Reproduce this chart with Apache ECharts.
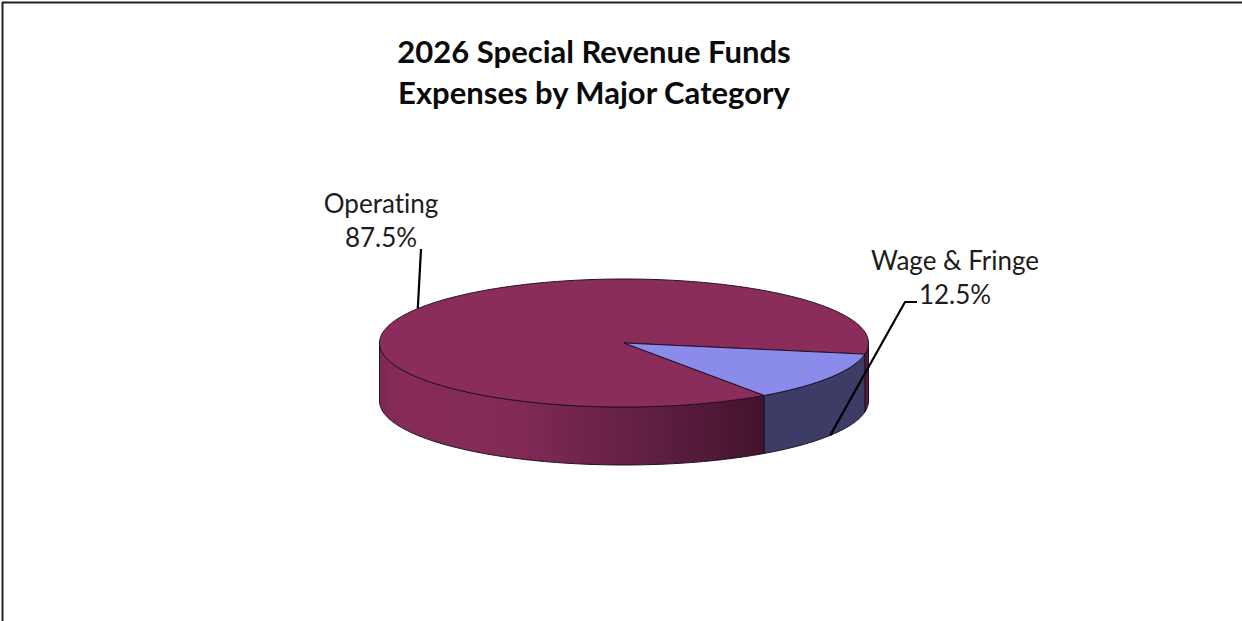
<!DOCTYPE html>
<html>
<head>
<meta charset="utf-8">
<style>
html,body{margin:0;padding:0;background:#fff}
#chart{width:1242px;height:621px}
#chart text{font-variant-ligatures:none !important}
</style>
<script src="https://cdn.jsdelivr.net/npm/echarts@6/dist/echarts.min.js"></script>
</head>
<body>
<div id="chart"></div>
<script>
// Share of special revenue fund expenses, percent
const categories = ['Operating', 'Wage & Fringe'];
const shares = [87.5, 12.5];

// Colours per slice: top face, front wall, and wall past the 3 o'clock seam
const topColors = ['#8A2D5B', '#8B8BEC'];
const sideColors = [
  {
    type: 'linear', x: 379, y: 0, x2: 763, y2: 0, global: true,
    colorStops: [
      { offset: 0, color: '#7E2852' }, { offset: 0.06, color: '#872B58' },
      { offset: 0.35, color: '#822A56' }, { offset: 0.6, color: '#6A2248' },
      { offset: 0.85, color: '#521A38' }, { offset: 1, color: '#43122C' }
    ]
  },
  '#3C3C66'
];
const wrapColors = ['#5A1A3A', '#3C3C66'];
const edgeColor = '#1E1226';

// Tilted disc geometry, in pixels
const disc = { cx: 624, cy: 343, rx: 244.5, ry: 64, depth: 58 };
const firstSliceDeg = 55; // clockwise from 3 o'clock

// Leader lines and label blocks, laid out per slice
const leaders = [
  { onBottomEdge: false, path: [[421, 249]], labelX: 381, labelY: 220 },
  { onBottomEdge: true, path: [[917, 302], [905, 302]], labelX: 955, labelY: 276.5 }
];

function rimPoint(deg, drop) {
  const t = deg * Math.PI / 180;
  return [disc.cx + disc.rx * Math.cos(t), disc.cy + disc.ry * Math.sin(t) + drop];
}

function arcPoints(from, to, drop) {
  const pts = [];
  const steps = Math.max(2, Math.ceil(Math.abs(to - from)));
  for (let i = 0; i <= steps; i++) pts.push(rimPoint(from + (to - from) * i / steps, drop));
  return pts;
}

function wall(from, to, fill) {
  return {
    type: 'polygon',
    shape: { points: arcPoints(from, to, 0).concat(arcPoints(to, from, disc.depth)) },
    style: { fill: fill, stroke: edgeColor, lineWidth: 1 },
    silent: true
  };
}

function renderSlice(params, api) {
  const i = params.dataIndex;
  let start = firstSliceDeg;
  for (let k = 0; k < i; k++) start += shares[k] * 3.6;
  const sweep = api.value(0) * 3.6;
  const end = start + sweep;
  const mid = start + sweep / 2;
  const children = [];

  // Only the front half of the wall shows: 0 to 180 degrees, also after one full turn
  if (start < 180) children.push(wall(Math.max(start, 0), Math.min(end, 180), sideColors[i]));
  if (end > 360) children.push(wall(Math.max(start, 360), Math.min(end, 540), wrapColors[i]));

  // Top face
  children.push({
    type: 'polygon',
    shape: { points: [[disc.cx, disc.cy]].concat(arcPoints(start, end, 0)) },
    style: { fill: topColors[i], stroke: edgeColor, lineWidth: 1 },
    silent: true
  });

  // Leader line ends on the rim at the slice's middle angle
  const lead = leaders[i];
  const anchor = rimPoint(mid, lead.onBottomEdge ? disc.depth : 0);
  children.push({
    type: 'polyline',
    shape: { points: lead.path.concat([anchor]) },
    style: { fill: null, stroke: '#000', lineWidth: 2.2 },
    silent: true
  });

  // Category name with its percentage underneath
  children.push({
    type: 'text',
    x: lead.labelX,
    y: lead.labelY,
    style: {
      text: categories[i] + '\n' + api.value(0).toFixed(1) + '%',
      font: '26px Lato, "Open Sans", sans-serif',
      lineHeight: 34,
      fill: '#1c1c1c',
      align: 'center',
      verticalAlign: 'middle'
    },
    silent: true
  });

  return { type: 'group', children: children };
}

const chart = echarts.init(document.getElementById('chart'), null, { renderer: 'svg' });
chart.setOption({
  animation: false,
  backgroundColor: '#fff',
  title: {
    text: '2026 Special Revenue Funds\nExpenses by Major Category',
    left: 589,
    top: 25,
    textAlign: 'center',
    textStyle: {
      fontFamily: 'Lato, "Open Sans", sans-serif',
      fontWeight: 'bold',
      fontSize: 31,
      lineHeight: 41,
      color: '#0a0a0a'
    }
  },
  graphic: [
    { type: 'line', shape: { x1: 2, y1: 2.5, x2: 1242, y2: 2.5 }, style: { stroke: '#222', lineWidth: 2 }, silent: true },
    { type: 'line', shape: { x1: 2.5, y1: 2, x2: 2.5, y2: 621 }, style: { stroke: '#222', lineWidth: 2 }, silent: true }
  ],
  series: [{
    type: 'custom',
    coordinateSystem: 'none',
    renderItem: renderSlice,
    data: shares.map(function (v, i) { return { name: categories[i], value: [v] }; })
  }]
});
</script>
</body>
</html>
